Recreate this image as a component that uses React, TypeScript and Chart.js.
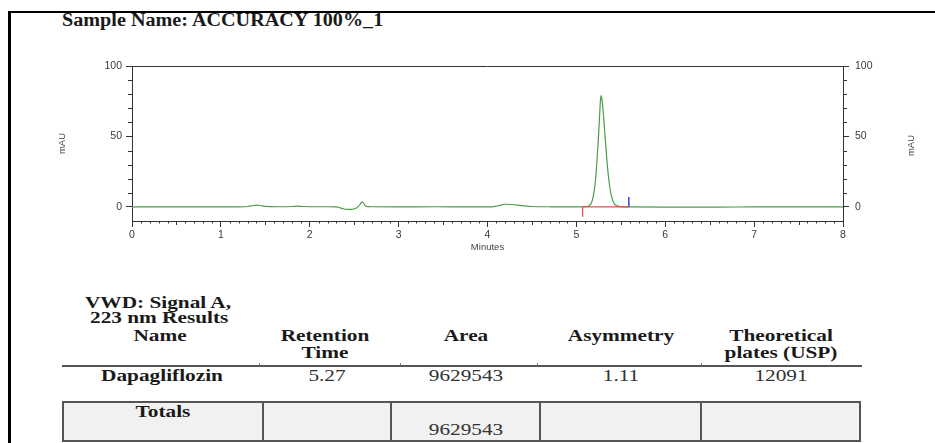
import React, { useEffect, useRef } from "react";
import { Chart, registerables } from "chart.js";
Chart.register(...registerables);

// ---------- data ----------
const sampleName = "Sample Name: ACCURACY 100%_1";

const timeMin = [
  0, 0.5, 1.0, 1.15, 1.3, 1.37, 1.41, 1.46, 1.55, 1.7, 1.8, 1.86, 1.93, 2.05, 2.2, 2.3,
  2.36, 2.42, 2.47, 2.52, 2.55, 2.575, 2.59, 2.61, 2.635, 2.7, 3.0, 3.4, 3.8, 4.05, 4.12,
  4.2, 4.28, 4.38, 4.5, 4.7, 4.9, 5.05, 5.12, 5.15, 5.17, 5.19, 5.21, 5.23, 5.245, 5.26,
  5.27, 5.278, 5.29, 5.3, 5.315, 5.33, 5.345, 5.36, 5.375, 5.39, 5.41, 5.43, 5.46, 5.5,
  5.6, 6.0, 6.6, 7.0, 8.0,
];
const signalMAU = [
  0, 0, 0, 0, 0.3, 1.0, 1.3, 0.7, 0.2, 0.1, 0.3, 0.6, 0.3, 0.1, 0.1, 0,
  -1.0, -1.8, -1.7, -0.9, 0.6, 2.6, 3.6, 2.2, 0.4, 0.1, 0, 0.1, 0, 0, 0.8,
  1.9, 1.7, 0.9, 0.3, 0.1, 0, 0, 0.3, 1.2, 3, 7.5, 16, 31, 46, 63,
  75, 79, 75, 69, 57, 44, 32, 22, 14.5, 9, 4.5, 2, 0.7, 0.2,
  0, -0.1, -0.1, 0, 0,
];

const peakStartTime = [5.07, 5.07, 5.59];
const peakStartValue = [-7, 0, 0];
const peakEndTime = [5.59, 5.59];
const peakEndValue = [0, 7];

const xMin = 0;
const xMax = 8;
const yMin = -10;
const yMax = 100;
const yLabelValues = [0, 50, 100];

const resultsTitle = ["VWD: Signal A,", "223 nm Results"];
const columnHeaders = [["Name"], ["Retention", "Time"], ["Area"], ["Asymmetry"], ["Theoretical", "plates (USP)"]];
const peakRow = ["Dapagliflozin", "5.27", "9629543", "1.11", "12091"];
const totalsRow = ["Totals", "", "9629543", "", ""];

// ---------- layout (not data) ----------
const colEdges = [62, 263, 391, 540, 701, 861];
const SX = 1.33;

const decorPlugin = {
  id: "decor",
  afterDraw(chart: any) {
    const { ctx, chartArea: a, scales } = chart;
    const x = scales.x;
    const y = scales.y;
    ctx.save();
    ctx.strokeStyle = "#333";
    ctx.lineWidth = 1;
    ctx.beginPath();
    const top = Math.round(a.top) + 0.5;
    ctx.moveTo(a.left, top);
    ctx.lineTo(a.right, top);
    for (let i = Math.round(xMin * 10); i <= Math.round(xMax * 10); i++) {
      if (i % 10 === 0) continue;
      const px = Math.round(x.getPixelForValue(i / 10)) + 0.5;
      const len = i % 5 === 0 ? 4 : 2.5;
      ctx.moveTo(px, a.bottom);
      ctx.lineTo(px, a.bottom + len);
    }
    for (let v = 10; v < yMax; v += 10) {
      if (yLabelValues.includes(v)) continue;
      const py = Math.round(y.getPixelForValue(v)) + 0.5;
      ctx.moveTo(a.left - 4, py);
      ctx.lineTo(a.left, py);
      ctx.moveTo(a.right, py);
      ctx.lineTo(a.right + 4, py);
    }
    ctx.stroke();

    ctx.fillStyle = "#444";
    ctx.textAlign = "center";
    ctx.textBaseline = "middle";
    ctx.font = '9.5px "Liberation Sans", Arial, sans-serif';
    ctx.fillText("Minutes", (a.left + a.right) / 2, a.bottom + 26);
    const midY = (a.top + a.bottom) / 2;
    ctx.save();
    ctx.translate(a.left - 70, midY);
    ctx.rotate(-Math.PI / 2);
    ctx.fillText("mAU", 0, 0);
    ctx.restore();
    ctx.save();
    ctx.translate(a.right + 68, midY + 2);
    ctx.rotate(-Math.PI / 2);
    ctx.fillText("mAU", 0, 0);
    ctx.restore();
    ctx.restore();
  },
};

function Txt(props: { x: number; y: number; text: string; bold?: boolean; size?: number; sx?: number; left?: boolean; color?: string }) {
  const { x, y, text, bold = true, size = 16, sx = SX, left = false, color } = props;
  return (
    <div
      style={{
        position: "absolute",
        left: x,
        top: y,
        whiteSpace: "nowrap",
        fontFamily: '"Liberation Serif", "Times New Roman", serif',
        fontSize: size,
        lineHeight: 1,
        fontWeight: bold ? 700 : 400,
        color: color || (bold ? "#1a1a1a" : "#333"),
        transformOrigin: left ? "left center" : "center center",
        transform: left ? `translateY(-50%) scaleX(${sx})` : `translate(-50%, -50%) scaleX(${sx})`,
      }}
    >
      {text}
    </div>
  );
}

export default function App() {
  const canvasRef = useRef<HTMLCanvasElement | null>(null);

  useEffect(() => {
    if (!canvasRef.current) return;
    const tickFont = { family: '"Liberation Sans", Arial, sans-serif', size: 10.5 };
    const yTicks = {
      stepSize: 50,
      font: tickFont,
      color: "#3a3a3a",
      callback: (v: any) => (yLabelValues.includes(Number(v)) ? String(v) : ""),
    };
    const yGrid = {
      display: true,
      drawOnChartArea: false,
      drawTicks: true,
      tickLength: 6,
      color: (c: any) => (c.tick && yLabelValues.includes(c.tick.value) ? "#333" : "rgba(0,0,0,0)"),
    };
    const chart = new Chart(canvasRef.current, {
      type: "line",
      data: {
        datasets: [
          {
            data: peakStartTime.map((t, i) => ({ x: t, y: peakStartValue[i] })),
            borderColor: "#e0525a",
            borderWidth: 1.3,
            pointRadius: 0,
            tension: 0,
          },
          {
            data: peakEndTime.map((t, i) => ({ x: t, y: peakEndValue[i] })),
            borderColor: "#2f3fd8",
            borderWidth: 1.5,
            pointRadius: 0,
            tension: 0,
          },
          {
            data: timeMin.map((t, i) => ({ x: t, y: signalMAU[i] })),
            borderColor: "#4c9c4c",
            borderWidth: 1.2,
            pointRadius: 0,
            cubicInterpolationMode: "monotone",
          },
        ],
      },
      options: {
        animation: false,
        responsive: false,
        maintainAspectRatio: false,
        devicePixelRatio: 1,
        layout: { padding: { top: 16, left: 0, right: 0, bottom: 0 } },
        plugins: { legend: { display: false }, tooltip: { enabled: false } },
        scales: {
          x: {
            type: "linear",
            min: xMin,
            max: xMax,
            ticks: { stepSize: 1, font: tickFont, color: "#3a3a3a", padding: 2, maxRotation: 0 },
            grid: { display: true, drawOnChartArea: false, drawTicks: true, tickLength: 6, color: "#333" },
            border: { display: true, color: "#333", width: 1 },
            afterFit: (s: any) => {
              s.height = 39;
            },
          },
          y: {
            type: "linear",
            position: "left",
            min: yMin,
            max: yMax,
            ticks: { ...yTicks, padding: 4 },
            grid: yGrid,
            border: { display: true, color: "#333", width: 1 },
            afterFit: (s: any) => {
              s.width = 112;
            },
          },
          y2: {
            type: "linear",
            position: "right",
            min: yMin,
            max: yMax,
            ticks: { ...yTicks, padding: 6 },
            grid: yGrid,
            border: { display: true, color: "#333", width: 1 },
            afterFit: (s: any) => {
              s.width = 92;
            },
          },
        },
      } as any,
      plugins: [decorPlugin],
    });
    return () => chart.destroy();
  }, []);

  const centers = colEdges.slice(0, -1).map((e, i) => (e + colEdges[i + 1]) / 2);

  return (
    <div style={{ position: "fixed", left: 0, top: 0, width: 935, height: 443, overflow: "hidden", background: "#fff" }}>
      <div
        style={{
          position: "absolute",
          left: 8,
          top: 11,
          width: 1000,
          height: 500,
          borderLeft: "3px solid #000",
          borderTop: "2px solid #000",
        }}
      />
      <Txt x={62} y={19.5} text={sampleName} size={18} sx={1.12} left />
      <canvas
        ref={canvasRef}
        width={915}
        height={210}
        style={{ position: "absolute", left: 20, top: 50, width: 915, height: 210 }}
      />
      <Txt x={85} y={303} text={resultsTitle[0]} left />
      <Txt x={90} y={318} text={resultsTitle[1]} left />
      {columnHeaders.map((lines, i) =>
        lines.map((l, j) => <Txt key={`h${i}-${j}`} x={centers[i] + (i === 0 ? -3 : i === 1 ? -2 : 0)} y={336 + j * 17} text={l} />)
      )}
      <div style={{ position: "absolute", left: 62, top: 365, width: 800, height: 1.5, background: "#555" }} />
      {[259, 400, 537, 701].map((m) => (
        <div key={m} style={{ position: "absolute", left: m - 0.5, top: 363, width: 1.5, height: 3, background: "#777" }} />
      ))}
      {peakRow.map((v, i) => (
        <Txt key={`r${i}`} x={centers[i] + (i === 0 ? -1 : 0)} y={376} text={v} bold={i === 0} />
      ))}
      <div
        style={{
          position: "absolute",
          left: colEdges[0],
          top: 401,
          width: colEdges[colEdges.length - 1] - colEdges[0],
          height: 41,
          boxSizing: "border-box",
          border: "2px solid #555",
          background: "#f1f1f1",
        }}
      />
      {colEdges.slice(1, -1).map((e) => (
        <div key={e} style={{ position: "absolute", left: e - 1, top: 401, width: 2, height: 41, background: "#555" }} />
      ))}
      {totalsRow.map((v, i) =>
        v ? <Txt key={`t${i}`} x={centers[i]} y={i === 0 ? 412 : 430} text={v} bold={i === 0} /> : null
      )}
    </div>
  );
}
